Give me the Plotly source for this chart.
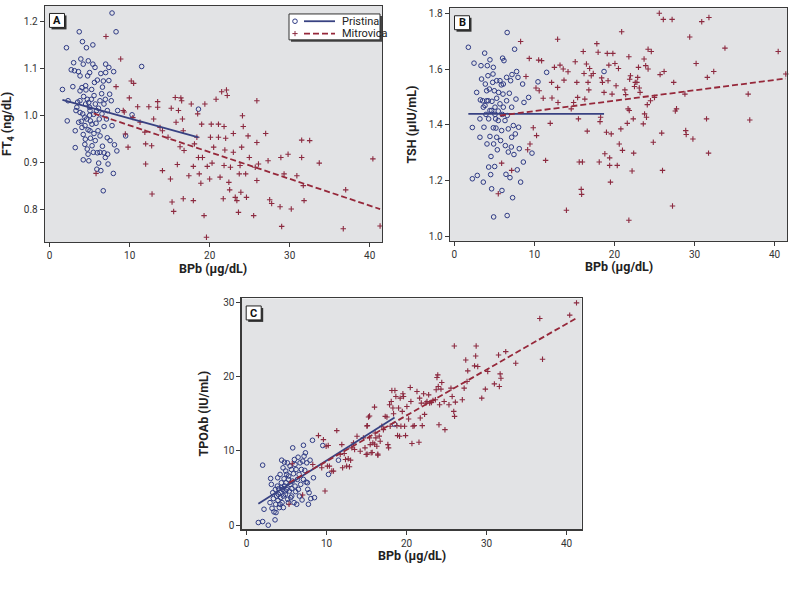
import plotly.graph_objects as go

# ---------------- data ----------------
bpb_ticks = [0, 10, 20, 30, 40]
ft4_ticks = [0.8, 0.9, 1.0, 1.1, 1.2]
tsh_ticks = [1.0, 1.2, 1.4, 1.6, 1.8]
tpo_ticks = [0, 10, 20, 30]

group_names = ["Pristina", "Mitrovica"]
panel_labels = ["A", "B", "C"]
x_title = "BPb (µg/dL)"
y_titles = ["FT<sub>4</sub> (ng/dL)", "TSH (µIU/mL)", "TPOAb (IU/mL)"]

# Panel A: BPb vs FT4
pristina_a = [
    (1.6, 1.056), (2.1, 1.145), (2.2, 0.989), (2.3, 1.032), (2.9, 1.062), (2.7, 1.098), (3.0, 1.113),
    (3.1, 1.096), (3.4, 1.018), (3.2, 0.932), (3.2, 0.968), (3.5, 1.029), (3.6, 1.094), (3.7, 1.179),
    (3.8, 1.085), (3.8, 1.053), (3.9, 1.121), (3.8, 1.007), (3.96, 0.988), (4.04, 0.975), (4.1, 1.158),
    (4.2, 1.110), (4.25, 1.041), (4.2, 0.960), (4.2, 0.906), (4.4, 0.939), (4.4, 0.997), (4.5, 1.064),
    (4.5, 1.025), (4.6, 1.145), (4.7, 0.929), (4.75, 1.085), (4.8, 0.970), (4.8, 0.918), (4.9, 0.904),
    (5.0, 1.018), (5.0, 1.092), (5.0, 1.001), (5.1, 0.989), (5.1, 0.952), (5.25, 1.056), (5.4, 1.110),
    (5.4, 1.151), (5.3, 0.936), (5.5, 1.003), (5.55, 1.043), (5.6, 1.071), (5.7, 0.947), (5.8, 0.984),
    (5.9, 0.886), (5.96, 0.921), (5.96, 1.076), (6.1, 1.016), (6.2, 0.993), (6.3, 0.957), (6.4, 1.090),
    (6.4, 0.883), (6.5, 1.047), (6.6, 1.061), (6.6, 0.935), (6.7, 0.840), (6.8, 0.977), (6.8, 0.921),
    (6.96, 1.035), (7.0, 1.092), (7.0, 1.110), (7.1, 0.993), (7.2, 0.953), (7.25, 0.918), (7.3, 0.897),
    (7.4, 1.103), (7.4, 1.075), (7.5, 1.046), (7.55, 0.947), (7.7, 1.032), (7.8, 0.979), (7.8, 1.219),
    (7.96, 0.877), (8.0, 1.094), (8.1, 0.938), (8.3, 1.179), (8.5, 1.011), (8.4, 0.925), (9.5, 0.957),
    (10.3, 1.002), (11.5, 1.105), (18.6, 1.014),
    (4.54, 1.055), (4.71, 1.035), (4.88, 1.028), (5.04, 1.011), (5.21, 1.035), (5.29, 0.982), (5.54, 0.962),
    (5.71, 1.025), (5.88, 1.011), (6.04, 0.968), (6.29, 1.032), (6.54, 1.004), (6.79, 1.025), (4.63, 0.993),
    (4.13, 1.004), (3.63, 0.986), (3.29, 1.011), (4.42, 0.979), (5.46, 0.922), (6.29, 0.922), (7.21, 1.011),
    (6.96, 0.911), (6.13, 0.899), (5.67, 1.103), (4.83, 1.117), (4.04, 1.060), (3.79, 1.032), (5.04, 0.968),
    (4.46, 0.950), (6.71, 1.074),
]
mitrovica_a = [
    (7.04, 1.169), (8.88, 1.121), (8.3, 1.062), (5.8, 0.877), (9.2, 1.011), (9.33, 1.008), (9.46, 0.961),
    (9.8, 0.933), (9.96, 1.038), (10.2, 1.074), (10.5, 1.069), (10.4, 0.996), (11.0, 1.019), (11.3, 0.986),
    (11.9, 0.965), (12.0, 0.940), (12.0, 0.897), (12.4, 1.019), (12.75, 0.936), (12.8, 0.833), (13.0, 0.993),
    (13.5, 1.030), (13.5, 1.018), (13.8, 0.975), (14.1, 0.883), (14.1, 0.968), (14.8, 0.954), (15.2, 1.016),
    (15.1, 0.865), (15.3, 0.816), (15.5, 0.796), (15.7, 1.039), (15.8, 0.986), (15.96, 0.896), (16.1, 1.011),
    (16.3, 0.934), (16.4, 1.038), (16.5, 1.032), (16.6, 0.993), (16.7, 0.968), (16.8, 0.926), (16.7, 0.823),
    (17.4, 0.872), (17.7, 1.025), (17.96, 0.892), (17.96, 0.819), (18.1, 0.940), (18.4, 0.954), (18.5, 1.004),
    (18.6, 0.911), (18.7, 0.876), (18.9, 0.856), (19.0, 0.982), (19.1, 0.911), (19.3, 0.787), (19.4, 1.025),
    (19.6, 0.741), (19.7, 0.892), (20.0, 0.865), (20.1, 0.954), (20.2, 0.982), (20.3, 0.899), (20.5, 0.933),
    (20.8, 1.035), (21.1, 0.954), (21.1, 0.982), (21.3, 0.869), (21.5, 1.051), (21.7, 0.823), (21.8, 0.977),
    (21.8, 0.894), (21.9, 0.927), (22.0, 0.952), (22.1, 1.055), (22.2, 1.043), (22.4, 0.858), (22.5, 0.842),
    (22.6, 0.890), (22.96, 0.922), (22.96, 0.962), (23.2, 0.826), (23.4, 0.819), (23.6, 0.794), (23.7, 0.876),
    (23.8, 0.894), (23.9, 0.837), (24.0, 0.933), (24.1, 1.000), (24.2, 0.977), (24.5, 0.876), (24.6, 0.826),
    (24.8, 0.957), (24.96, 0.911), (25.5, 0.787), (25.7, 0.890), (25.9, 1.032), (25.9, 0.943), (25.9, 0.862),
    (26.1, 0.897), (27.0, 0.962), (27.3, 0.904), (27.5, 0.821), (27.75, 0.813), (28.8, 0.806), (28.9, 0.911),
    (29.0, 0.764), (29.3, 0.876), (29.8, 0.918), (30.2, 0.801), (30.9, 0.872), (31.5, 0.948), (31.5, 0.911),
    (31.7, 0.851), (31.8, 0.819), (32.5, 0.947), (33.7, 0.899), (36.7, 0.759), (37.0, 0.842), (40.4, 0.908),
    (41.3, 0.765),
]
fit_pristina_a = [(1.6, 1.034), (18.6, 0.954)]
fit_mitrovica_a = [(5.5, 1.005), (41.3, 0.801)]

# Panel B: BPb vs TSH
pristina_b = [
    (1.75, 1.678), (2.25, 1.390), (2.25, 1.206), (2.46, 1.621), (2.87, 1.218), (2.79, 1.516), (3.2, 1.421),
    (3.2, 1.355), (3.25, 1.489), (3.33, 1.612), (3.4, 1.564), (3.54, 1.486), (3.62, 1.194), (3.7, 1.391),
    (3.79, 1.657), (3.87, 1.546), (3.95, 1.437), (4.04, 1.522), (4.08, 1.331), (4.12, 1.612), (4.2, 1.576),
    (4.29, 1.248), (4.29, 1.421), (4.37, 1.528), (4.45, 1.633), (4.45, 1.358), (4.54, 1.221), (4.58, 1.286),
    (4.66, 1.170), (4.7, 1.484), (4.79, 1.552), (4.83, 1.582), (4.87, 1.389), (4.91, 1.331), (4.91, 1.069),
    (4.99, 1.522), (5.04, 1.250), (5.08, 1.437), (5.16, 1.421), (5.2, 1.388), (5.29, 1.558), (5.29, 1.495),
    (5.37, 1.310), (5.49, 1.449), (5.53, 1.516), (5.7, 1.558), (5.78, 1.343), (5.87, 1.543), (5.95, 1.164),
    (5.99, 1.437), (6.03, 1.639), (6.08, 1.510), (6.12, 1.546), (6.2, 1.630), (6.37, 1.325), (6.45, 1.222),
    (6.53, 1.486), (6.6, 1.731), (6.6, 1.433), (6.74, 1.302), (6.87, 1.513), (6.95, 1.210), (7.03, 1.558),
    (7.12, 1.320), (7.16, 1.463), (7.2, 1.580), (7.28, 1.138), (7.37, 1.397), (7.45, 1.293), (7.53, 1.671),
    (7.62, 1.367), (7.7, 1.492), (7.78, 1.591), (7.86, 1.238), (7.95, 1.570), (8.03, 1.391), (8.11, 1.314),
    (8.28, 1.194), (8.53, 1.546), (8.62, 1.266), (8.7, 1.480), (9.28, 1.498), (9.7, 1.298), (10.45, 1.554),
    (11.53, 1.588), (18.7, 1.591), (6.6, 1.074),
    (3.83, 1.469), (4.24, 1.486), (4.66, 1.451), (5.08, 1.463), (5.49, 1.415), (5.91, 1.379), (6.33, 1.415),
    (6.74, 1.385), (7.16, 1.355), (5.29, 1.355), (4.45, 1.451), (3.62, 1.463), (5.7, 1.475), (6.12, 1.463),
    (6.53, 1.570), (4.87, 1.606), (4.04, 1.486),
]
mitrovica_b = [
    (5.49, 1.152), (5.91, 1.262), (7.16, 1.236), (8.28, 1.699), (8.95, 1.573), (9.36, 1.638), (9.16, 1.310),
    (9.45, 1.331), (9.86, 1.389), (10.2, 1.532), (10.27, 1.361), (10.53, 1.632), (10.6, 1.522), (10.9, 1.630),
    (11.1, 1.495), (11.4, 1.272), (11.98, 1.405), (12.15, 1.552), (12.2, 1.496), (12.5, 1.606), (12.9, 1.707),
    (12.9, 1.534), (12.95, 1.480), (13.2, 1.614), (13.6, 1.600), (13.7, 1.560), (14.0, 1.093), (14.2, 1.590),
    (14.6, 1.457), (14.9, 1.480), (15.1, 1.626), (15.3, 1.552), (15.4, 1.498), (15.5, 1.421), (15.6, 1.266),
    (15.85, 1.168), (15.9, 1.150), (16.0, 1.266), (16.1, 1.663), (16.2, 1.584), (16.3, 1.492), (16.5, 1.618),
    (16.6, 1.377), (16.7, 1.552), (16.8, 1.525), (16.9, 1.602), (17.1, 1.576), (17.35, 1.584), (17.8, 1.691),
    (17.96, 1.660), (18.1, 1.266), (18.2, 1.411), (18.27, 1.427), (18.4, 1.568), (18.5, 1.552), (18.7, 1.516),
    (18.8, 1.296), (19.0, 1.373), (19.1, 1.656), (19.2, 1.558), (19.3, 1.614), (19.4, 1.254), (19.4, 1.281),
    (19.5, 1.194), (19.6, 1.367), (19.7, 1.510), (19.8, 1.656), (20.06, 1.620), (20.2, 1.540), (20.35, 1.254),
    (20.5, 1.602), (20.6, 1.331), (20.8, 1.385), (20.9, 1.734), (21.0, 1.308), (21.3, 1.525), (21.4, 1.508),
    (21.6, 1.405), (21.7, 1.457), (21.8, 1.644), (21.8, 1.057), (21.85, 1.451), (21.9, 1.563), (22.0, 1.576),
    (22.2, 1.234), (22.35, 1.421), (22.4, 1.298), (22.5, 1.537), (22.6, 1.552), (22.8, 1.552), (22.9, 1.570),
    (23.0, 1.606), (23.1, 1.532), (23.2, 1.516), (23.6, 1.403), (23.7, 1.636), (23.76, 1.439), (23.9, 1.612),
    (24.0, 1.427), (24.1, 1.472), (24.2, 1.600), (24.2, 1.671), (24.5, 1.486), (24.6, 1.663), (24.85, 1.337),
    (25.0, 1.498), (25.6, 1.800), (25.7, 1.580), (25.9, 1.370), (26.0, 1.236), (26.1, 1.778), (26.2, 1.591),
    (27.2, 1.778), (27.25, 1.108), (27.4, 1.552), (27.6, 1.449), (27.75, 1.457), (28.8, 1.510), (28.9, 1.379),
    (28.96, 1.365), (29.4, 1.715), (29.8, 1.349), (30.2, 1.620), (30.9, 1.770), (31.5, 1.421), (31.6, 1.570),
    (31.75, 1.298), (31.8, 1.785), (32.4, 1.591), (33.8, 1.675), (36.7, 1.510), (36.9, 1.417), (40.45, 1.663),
    (41.4, 1.582),
]
fit_pristina_b = [(1.75, 1.439), (18.7, 1.439)]
fit_mitrovica_b = [(5.7, 1.433), (41.4, 1.566)]

# Panel C: BPb vs TPOAb
pristina_c = [
    (1.46, 0.36), (2.0, 8.09), (2.0, 0.49), (2.17, 2.15), (2.7, 0.0), (2.92, 3.04), (3.0, 6.3), (3.09, 5.5),
    (3.17, 2.28), (3.26, 4.38), (3.34, 3.58), (3.42, 1.79), (3.55, 0.72), (3.6, 4.83), (3.63, 2.82), (3.67, 1.7),
    (3.76, 3.93), (3.84, 5.27), (3.88, 6.39), (3.92, 3.35), (4.0, 4.92), (4.09, 2.37), (4.18, 6.84), (4.18, 4.38),
    (4.26, 3.71), (4.34, 5.72), (4.38, 8.76), (4.43, 3.04), (4.51, 4.83), (4.55, 7.73), (4.59, 2.37), (4.68, 6.26),
    (4.72, 8.49), (4.76, 5.27), (4.84, 4.16), (4.89, 7.29), (4.93, 5.72), (5.01, 4.83), (5.09, 8.4), (5.14, 3.49),
    (5.22, 6.17), (5.26, 6.62), (5.34, 4.6), (5.43, 5.5), (5.51, 3.71), (5.6, 7.51), (5.64, 4.92), (5.72, 5.95),
    (5.76, 10.42), (5.85, 6.93), (5.93, 3.04), (5.97, 8.85), (6.05, 5.27), (6.14, 4.52), (6.18, 7.51), (6.26, 2.82),
    (6.35, 6.17), (6.43, 9.16), (6.47, 4.83), (6.56, 6.84), (6.6, 3.93), (6.68, 8.4), (6.76, 5.5), (6.85, 7.51),
    (6.93, 3.4), (7.01, 8.63), (7.1, 10.77), (7.1, 6.17), (7.18, 9.3), (7.27, 7.38), (7.35, 9.75), (7.43, 5.81),
    (7.52, 8.4), (7.6, 5.72), (7.64, 4.83), (7.72, 2.82), (7.81, 4.38), (7.93, 8.76), (8.02, 3.58), (8.23, 11.44),
    (8.35, 6.39), (8.48, 3.71), (9.52, 10.73), (10.23, 6.84), (11.48, 8.76), (18.5, 13.59),
    (3.97, 4.16), (4.8, 4.6), (5.22, 3.04), (5.64, 3.93), (4.38, 5.05), (5.01, 6.84), (5.43, 7.96), (6.05, 8.18),
    (4.59, 3.93), (4.18, 2.82),
]
mitrovica_c = [
    (5.3, 2.82), (7.0, 4.07), (5.7, 8.27), (8.27, 8.18), (8.98, 12.07), (9.39, 7.73), (9.6, 11.53), (9.8, 4.6),
    (9.94, 10.64), (10.1, 7.96), (10.2, 10.73), (10.35, 7.96), (10.65, 7.29), (10.86, 7.29), (11.27, 12.74),
    (11.7, 9.52), (11.9, 10.86), (12.0, 7.73), (12.2, 9.66), (12.36, 8.85), (12.5, 7.96), (12.7, 8.94),
    (12.86, 7.87), (13.0, 8.76), (13.15, 10.42), (13.36, 11.09), (13.5, 10.19), (13.8, 11.98), (14.2, 9.97),
    (14.6, 11.76), (14.8, 10.42), (14.95, 9.52), (15.1, 13.41), (15.24, 14.57), (15.37, 11.76), (15.45, 10.86),
    (15.57, 9.75), (15.78, 11.09), (15.99, 15.91), (16.07, 12.43), (16.16, 11.76), (16.28, 10.64), (16.41, 9.43),
    (16.58, 12.0), (16.7, 11.31), (16.9, 13.32), (17.1, 12.87), (17.33, 14.66), (17.54, 14.57), (17.66, 10.86),
    (17.75, 10.42), (17.87, 16.23), (17.95, 13.32), (18.08, 16.67), (18.16, 18.15), (18.29, 15.78), (18.37, 15.02),
    (18.54, 18.15), (18.66, 17.34), (18.79, 13.41), (18.87, 12.07), (19.0, 15.78), (19.12, 11.98), (19.2, 17.12),
    (19.29, 13.32), (19.46, 15.33), (19.54, 17.7), (19.62, 17.34), (19.75, 13.32), (19.87, 12.07), (20.04, 16.0),
    (20.25, 14.3), (20.46, 18.55), (20.54, 16.67), (20.67, 11.0), (20.8, 13.32), (20.96, 13.41), (21.3, 18.02),
    (21.55, 11.18), (21.63, 17.12), (21.71, 14.44), (21.84, 16.45), (21.96, 13.41), (22.13, 17.7), (22.25, 14.93),
    (22.42, 16.45), (22.55, 16.67), (22.76, 17.56), (22.88, 16.45), (23.1, 16.54), (23.3, 16.81), (23.6, 16.9),
    (23.7, 18.24), (23.8, 19.89), (23.9, 20.25), (23.96, 18.69), (24.05, 13.54), (24.13, 16.23), (24.3, 18.33),
    (24.4, 19.22), (24.7, 16.67), (24.8, 12.87), (25.3, 16.23), (25.55, 18.46), (25.7, 17.34), (25.9, 15.33),
    (25.97, 24.14), (26.0, 14.66), (26.1, 16.58), (26.97, 16.9), (27.2, 18.46), (27.4, 22.26), (27.56, 19.36),
    (27.65, 20.79), (28.5, 21.46), (28.64, 22.8), (28.7, 24.14), (28.9, 21.37), (29.4, 17.12), (29.85, 18.33),
    (30.15, 20.7), (30.98, 19.04), (31.5, 22.93), (31.6, 18.69), (31.7, 20.38), (31.8, 19.8), (32.4, 23.38),
    (33.65, 21.81), (36.66, 27.85), (37.0, 22.35), (40.4, 28.3), (41.25, 29.95), (15.03, 13.37), (15.37, 14.71),
    (15.07, 9.57), (15.7, 9.79), (16.4, 9.57), (16.0, 10.9),
]
fit_pristina_c = [(1.46, 2.9), (18.5, 14.5)]
fit_mitrovica_c = [(5.3, 5.72), (41.25, 27.9)]

# ---------------- styling ----------------
W, H = 800, 592
FONT = "Roboto, Liberation Sans, Arial, sans-serif"
BLUE = "rgb(46,58,132)"
BLUE_LINE = "rgb(56,66,130)"
RED = "rgb(140,42,64)"
RED_LINE = "rgb(150,40,58)"
BG = "rgb(226,227,229)"
AXC = "#3a3a3a"
DASH = "6px,3px"


def px(x):
    return x / W


def py(y):
    return 1 - y / H


def xs(pairs):
    return [p[0] for p in pairs]


def ys(pairs):
    return [p[1] for p in pairs]


# plot areas in pixels: (left, top, right, bottom)
areas = [(45, 5, 382, 242), (450, 7.3, 787, 240.7), (241.7, 298.5, 581.7, 530)]
x_ranges = [[-0.58, 41.54], [-0.54, 41.55], [-0.62, 41.9]]
y_ranges = [[0.7304, 1.234], [0.983, 1.818], [-0.54, 30.54]]
y_tickvals = [ft4_ticks, tsh_ticks, tpo_ticks]
y_fmt = [".1f", ".1f", "d"]
series = [
    (pristina_a, mitrovica_a, fit_pristina_a, fit_mitrovica_a),
    (pristina_b, mitrovica_b, fit_pristina_b, fit_mitrovica_b),
    (pristina_c, mitrovica_c, fit_pristina_c, fit_mitrovica_c),
]

fig = go.Figure()
layout = dict(
    width=W, height=H, margin=dict(l=0, r=0, t=0, b=0),
    paper_bgcolor="white", plot_bgcolor=BG, showlegend=False,
    font=dict(family=FONT, color="#222"),
)
annotations = []
shapes = []


def text_at(x, y, text, size, xanchor="center", angle=0, color="#222"):
    annotations.append(dict(x=px(x), y=py(y), xref="paper", yref="paper", text=text,
                            showarrow=False, xanchor=xanchor, yanchor="middle", textangle=angle,
                            font=dict(family=FONT, size=size, color=color)))


for i in range(3):
    sfx = "" if i == 0 else str(i + 1)
    xa, ya = "x" + sfx, "y" + sfx
    l, t, r, b = areas[i]
    pr, mi, fp, fm = series[i]
    fig.add_trace(go.Scatter(
        x=xs(pr), y=ys(pr), mode="markers", name=group_names[0], xaxis=xa, yaxis=ya,
        marker=dict(symbol="circle-open", size=4.6, color=BLUE, line=dict(width=1, color=BLUE)),
        cliponaxis=False))
    fig.add_trace(go.Scatter(
        x=xs(mi), y=ys(mi), mode="markers", name=group_names[1], xaxis=xa, yaxis=ya,
        marker=dict(symbol="cross-thin-open", size=3.9, color=RED, line=dict(width=1.1, color=RED)),
        cliponaxis=False))
    fig.add_trace(go.Scatter(
        x=xs(fp), y=ys(fp), mode="lines", xaxis=xa, yaxis=ya,
        line=dict(color=BLUE_LINE, width=1.8)))
    fig.add_trace(go.Scatter(
        x=xs(fm), y=ys(fm), mode="lines", xaxis=xa, yaxis=ya,
        line=dict(color=RED_LINE, width=1.8, dash=DASH)))

    common = dict(ticks="outside", ticklen=4, tickwidth=1, tickcolor=AXC, showline=True,
                  linecolor=AXC, linewidth=1.3, mirror=True, showgrid=False, zeroline=False,
                  tickfont=dict(family=FONT, size=10, color="#333"), fixedrange=True)
    layout["xaxis" + sfx] = dict(domain=[px(l), px(r)], range=x_ranges[i], tickvals=bpb_ticks,
                                 anchor=ya, **common)
    layout["yaxis" + sfx] = dict(domain=[py(b), py(t)], range=y_ranges[i], tickvals=y_tickvals[i],
                                 tickformat=y_fmt[i], anchor=xa, **common)

    cx = (l + r) / 2
    cy = (t + b) / 2
    text_at(cx, b + 26, "<b>" + x_title + "</b>", 12.5)
    text_at(l - 38, cy, "<b>" + y_titles[i] + "</b>", 12.5, angle=-90)
    # panel label box with shadow
    bx0, by0 = l + 4.5, t + 7.5
    shapes.append(dict(type="rect", xref="paper", yref="paper", x0=px(bx0 + 2), x1=px(bx0 + 17),
                       y0=py(by0 + 16), y1=py(by0 + 2), fillcolor="#333", line=dict(width=0)))
    shapes.append(dict(type="rect", xref="paper", yref="paper", x0=px(bx0), x1=px(bx0 + 15),
                       y0=py(by0 + 14), y1=py(by0), fillcolor="white", line=dict(width=1, color="#222")))
    text_at(bx0 + 7.5, by0 + 7.2, "<b>" + panel_labels[i] + "</b>", 11, color="#111")

# custom legend in panel A
lx0, ly0, lx1, ly1 = 289, 13, 380, 39
shapes.append(dict(type="rect", xref="paper", yref="paper", x0=px(lx0 + 2), x1=px(lx1 + 2),
                   y0=py(ly1 + 2), y1=py(ly0 + 2), fillcolor="#444", line=dict(width=0)))
shapes.append(dict(type="rect", xref="paper", yref="paper", x0=px(lx0), x1=px(lx1),
                   y0=py(ly1), y1=py(ly0), fillcolor="white", line=dict(width=1, color="#333")))
r1, r2 = 20.3, 32.7
shapes.append(dict(type="circle", xref="paper", yref="paper", x0=px(292.7), x1=px(297.3),
                   y0=py(r1 + 2.3), y1=py(r1 - 2.3), line=dict(width=1, color=BLUE)))
shapes.append(dict(type="line", xref="paper", yref="paper", x0=px(292.4), x1=px(297.6),
                   y0=py(r2), y1=py(r2), line=dict(width=1, color=RED)))
shapes.append(dict(type="line", xref="paper", yref="paper", x0=px(295), x1=px(295),
                   y0=py(r2 + 2.6), y1=py(r2 - 2.6), line=dict(width=1, color=RED)))
shapes.append(dict(type="line", xref="paper", yref="paper", x0=px(304), x1=px(335),
                   y0=py(r1), y1=py(r1), line=dict(width=1.8, color=BLUE_LINE)))
shapes.append(dict(type="line", xref="paper", yref="paper", x0=px(304), x1=px(335),
                   y0=py(r2), y1=py(r2), line=dict(width=1.8, color=RED_LINE, dash=DASH)))
for name, yy in zip(group_names, [r1, r2]):
    text_at(340, yy, name, 11, xanchor="left")

layout["annotations"] = annotations
layout["shapes"] = shapes
fig.update_layout(**layout)
fig.write_html("out.html", config={"displayModeBar": False, "staticPlot": True},
               post_script="document.body.style.margin='0px';document.body.style.overflow='hidden';")
